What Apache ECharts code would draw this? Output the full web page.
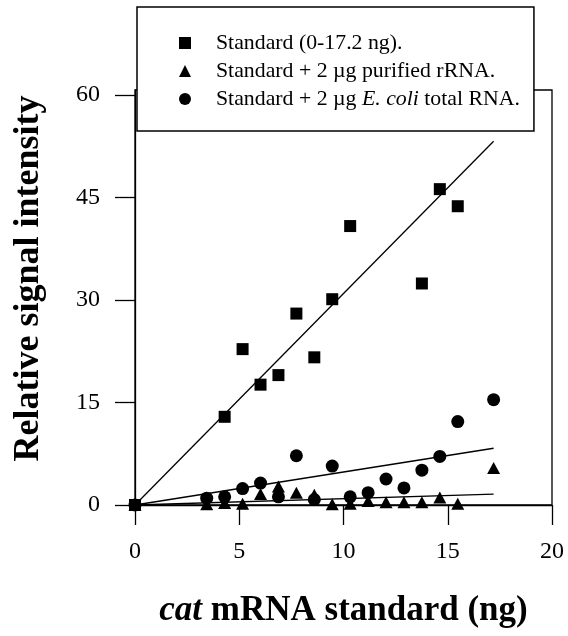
<!DOCTYPE html>
<html>
<head>
<meta charset="utf-8">
<script src="https://cdn.jsdelivr.net/npm/echarts@6/dist/echarts.min.js"></script>
<style>
html,body{margin:0;padding:0;background:#fff;}
#chart{width:568px;height:636px;}
</style>
</head>
<body>
<div id="chart"></div>
<script>
// ---- data ----
var seriesNames = ['Standard (0-17.2 ng).', 'Standard + 2 µg purified rRNA.', 'Standard + 2 µg E. coli total RNA.'];

var standardX = [0, 4.3, 5.16, 6.02, 6.88, 7.74, 8.6, 9.46, 10.32, 13.76, 14.62, 15.48];
var standardY = [0, 12.9, 22.8, 17.6, 19.0, 28.0, 21.6, 30.1, 40.8, 32.4, 46.2, 43.7];

var rrnaX = [0, 3.44, 4.3, 5.16, 6.02, 6.88, 7.74, 8.6, 9.46, 10.32, 11.18, 12.04, 12.9, 13.76, 14.62, 15.48, 17.2];
var rrnaY = [0, 0.1, 0.3, 0.2, 1.6, 2.7, 1.8, 1.5, 0.1, 0.2, 0.6, 0.4, 0.4, 0.4, 1.1, 0.2, 5.4];

var totalX = [0, 3.44, 4.3, 5.16, 6.02, 6.88, 7.74, 8.6, 9.46, 10.32, 11.18, 12.04, 12.9, 13.76, 14.62, 15.48, 17.2];
var totalY = [0, 1.0, 1.2, 2.4, 3.2, 1.2, 7.2, 0.8, 5.7, 1.2, 1.8, 3.8, 2.5, 5.1, 7.1, 12.2, 15.4];

// fitted lines: [x0, x1] and [y0, y1]
var fitX = [0, 17.2];
var fitStdY = [0, 53.2];
var fitRrnaY = [0, 1.6];
var fitTotalY = [0, 8.3];

var xTicks = [0, 5, 10, 15, 20];
var yTicks = [0, 15, 30, 45, 60];

// ---- helpers ----
function pairs(xs, ys) { return xs.map(function (x, i) { return [x, ys[i]]; }); }

var serif = "'Liberation Serif', 'Times New Roman', Times, serif";

var chart = echarts.init(document.getElementById('chart'), null, { renderer: 'canvas' });

var lineStyle = { color: '#000', width: 1.3 };
var symbols = ['rect', 'triangle', 'circle'];
var legendFont = 21.8;

var option = {
  animation: false,
  backgroundColor: '#fff',
  grid: {
    left: 135, right: 16, top: 90, bottom: 131,
    show: true, borderColor: '#000', borderWidth: 1.3, backgroundColor: 'transparent'
  },
  legend: {
    orient: 'vertical',
    left: 137, top: 7,
    padding: [25, 14, 21, 42],
    itemGap: 6,
    itemWidth: 12,
    itemHeight: 12,
    backgroundColor: '#fff',
    borderColor: '#000',
    borderWidth: 1.5,
    borderRadius: 0,
    data: seriesNames.map(function (n, i) { return { name: n, icon: symbols[i] }; }),
    textStyle: {
      fontFamily: serif, fontSize: legendFont, color: '#000',
      rich: {
        sp: { width: 20, fontSize: legendFont, fontFamily: serif },
        n: { fontFamily: serif, fontSize: legendFont, color: '#000' },
        i: { fontFamily: serif, fontSize: legendFont, color: '#000', fontStyle: 'italic' }
      }
    },
    formatter: function (name) {
      if (name.indexOf('E. coli') >= 0) {
        var parts = name.split('E. coli');
        return '{sp| }{n|' + parts[0] + '}{i|E. coli}{n|' + parts[1] + '}';
      }
      return '{sp| }{n|' + name + '}';
    }
  },
  xAxis: {
    type: 'value',
    min: xTicks[0], max: xTicks[xTicks.length - 1], interval: 5,
    name: '{i|cat}{b| mRNA standard (ng)}',
    nameLocation: 'middle',
    nameGap: 88,
    nameTextStyle: {
      rich: {
        i: { fontFamily: serif, fontSize: 35, fontWeight: 'bold', fontStyle: 'italic', color: '#000' },
        b: { fontFamily: serif, fontSize: 35, fontWeight: 'bold', color: '#000' }
      }
    },
    axisLine: { show: true, onZero: false, lineStyle: { color: '#000', width: 1.3 } },
    axisTick: { show: true, inside: false, length: 20, lineStyle: { color: '#000', width: 1.3 } },
    axisLabel: { margin: 35, fontFamily: serif, fontSize: 24, color: '#000' },
    splitLine: { show: false }
  },
  yAxis: {
    type: 'value',
    min: 0, max: 60.7,
    name: 'Relative signal intensity',
    nameLocation: 'middle',
    nameRotate: 90,
    nameGap: 88,
    nameTextStyle: { fontFamily: serif, fontSize: 36, fontWeight: 'bold', color: '#000', padding: [0, 0, 0, 38] },
    axisLine: { show: true, onZero: false, lineStyle: { color: '#000', width: 1.3 } },
    axisTick: { show: true, inside: false, length: 20, customValues: yTicks, lineStyle: { color: '#000', width: 1.3 } },
    axisLabel: { margin: 35, fontFamily: serif, fontSize: 24, color: '#000', customValues: yTicks },
    splitLine: { show: false }
  },
  series: [
    {
      name: seriesNames[0] + ' fit', type: 'line', data: pairs(fitX, fitStdY),
      showSymbol: false, symbol: 'none', lineStyle: lineStyle, z: 2, silent: true
    },
    {
      name: seriesNames[1] + ' fit', type: 'line', data: pairs(fitX, fitRrnaY),
      showSymbol: false, symbol: 'none', lineStyle: lineStyle, z: 2, silent: true
    },
    {
      name: seriesNames[2] + ' fit', type: 'line', data: pairs(fitX, fitTotalY),
      showSymbol: false, symbol: 'none', lineStyle: lineStyle, z: 2, silent: true
    },
    {
      name: seriesNames[0], type: 'scatter', data: pairs(standardX, standardY),
      symbol: symbols[0], symbolSize: 12,
      itemStyle: { color: '#000', opacity: 1 }, z: 3
    },
    {
      name: seriesNames[1], type: 'scatter', data: pairs(rrnaX, rrnaY),
      symbol: symbols[1], symbolSize: [13, 12],
      itemStyle: { color: '#000', opacity: 1 }, z: 3
    },
    {
      name: seriesNames[2], type: 'scatter', data: pairs(totalX, totalY),
      symbol: symbols[2], symbolSize: 13,
      itemStyle: { color: '#000', opacity: 1 }, z: 3
    }
  ]
};

chart.setOption(option);
</script>
</body>
</html>
